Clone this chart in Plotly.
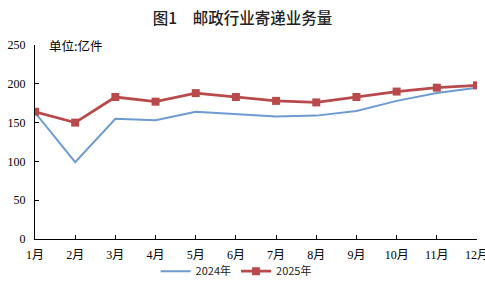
import plotly.graph_objects as go

months = ["1月", "2月", "3月", "4月", "5月", "6月", "7月", "8月", "9月", "10月", "11月", "12月"]
v2024 = [163, 99, 155, 153, 164, 161, 158, 159, 165, 178, 188, 195]
v2025 = [164, 150, 183, 177, 188, 183, 178, 176, 183, 190, 195, 198]
yticks = [0, 50, 100, 150, 200, 250]

xs = list(range(len(months)))

fig = go.Figure()
fig.add_trace(go.Scatter(
    x=xs, y=v2024, name="2024年", mode="lines",
    line=dict(color="#6d9bd0", width=2),
))
fig.add_trace(go.Scatter(
    x=xs, y=v2025, name="2025年", mode="lines+markers",
    line=dict(color="#b94a4c", width=2.8),
    marker=dict(symbol="square", size=8, color="#b94a4c"),
))

fig.update_layout(
    width=485, height=281,
    margin=dict(l=35, r=8, t=45, b=42, autoexpand=False),
    paper_bgcolor="white", plot_bgcolor="white",
    title=dict(text="图1　邮政行业寄递业务量", x=0.5, xanchor="center",
               yref="container", y=0.935, yanchor="middle",
               font=dict(family="Noto Sans CJK SC", size=15.5, color="#222", weight=500)),
    showlegend=True,
    legend=dict(orientation="h", x=0.455, xanchor="center",
                yref="container", y=0.035, yanchor="middle",
                bgcolor="rgba(0,0,0,0)", borderwidth=0,
                font=dict(family="Noto Sans CJK SC, Liberation Sans", size=11, color="#222"),
                itemwidth=30, tracegroupgap=0),
    xaxis=dict(
        tickmode="array", tickvals=xs, ticktext=months, range=[0, 11],
        showline=True, linecolor="black", linewidth=1,
        ticks="inside", ticklen=4, tickcolor="black",
        showgrid=False, zeroline=False, ticklabeloverflow="allow",
        ticklabelstandoff=5,
        tickfont=dict(family="Liberation Serif, Noto Sans CJK SC", size=12, color="black"),
    ),
    yaxis=dict(
        tickmode="array", tickvals=yticks, range=[0, 250],
        showline=True, linecolor="black", linewidth=1,
        ticks="inside", ticklen=4, tickcolor="black",
        showgrid=False, zeroline=False, ticklabelstandoff=6,
        tickfont=dict(family="Liberation Serif", size=12, color="black"),
    ),
    annotations=[dict(text="单位:亿件", xref="paper", yref="paper", x=0.028, y=1.0,
                      xanchor="left", yanchor="middle", showarrow=False,
                      font=dict(family="Noto Sans CJK SC", size=12.5, color="black"))],
)

fig.write_html("out.html")
